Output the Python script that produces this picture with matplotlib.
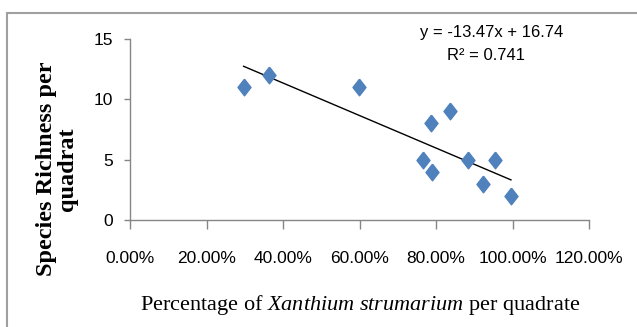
import matplotlib
matplotlib.use("Agg")
import matplotlib.pyplot as plt
import numpy as np
from matplotlib.patches import Rectangle
from matplotlib.ticker import FuncFormatter

# data
xanthium_pct = [0.297, 0.364, 0.599, 0.766, 0.786, 0.790, 0.837, 0.884, 0.924, 0.954, 0.996]
richness = [11, 12, 11, 5, 8, 4, 9, 5, 3, 5, 2]
slope = -13.47
intercept = 16.74
r_squared = 0.741
x_ticks = [0, 0.2, 0.4, 0.6, 0.8, 1.0, 1.2]
y_ticks = [0, 5, 10, 15]

plt.rcParams['mathtext.fontset'] = 'custom'
plt.rcParams['mathtext.rm'] = 'Liberation Serif'
plt.rcParams['mathtext.it'] = 'Liberation Serif:italic'

narrow = ['Liberation Sans', 'DejaVu Sans']
blue = '#4F81BD'
axis_grey = '#868686'

fig = plt.figure(figsize=(6.37, 3.27), dpi=100)
ax = fig.add_axes([130/637, 1 - 220/327, 459/637, 181/327])

# tall diamond marker like the excel one
diamond = [(0, 1), (0.78, 0), (0, -1), (-0.78, 0), (0, 1)]
ax.plot(xanthium_pct, richness, linestyle='none', marker=diamond, markersize=12,
        color=blue, markeredgecolor=blue, zorder=3)

# linear trendline over the data range
xs = np.array([min(xanthium_pct), max(xanthium_pct)])
ax.plot(xs, slope * xs + intercept, color='black', linewidth=1, zorder=2)

ax.set_xlim(0, 1.2)
ax.set_ylim(0, 15)
ax.set_xticks(x_ticks)
ax.set_yticks(y_ticks)
ax.xaxis.set_major_formatter(FuncFormatter(lambda v, p: '%.2f%%' % (v * 100)))

for s in ['top', 'right']:
    ax.spines[s].set_visible(False)
for s in ['left', 'bottom']:
    ax.spines[s].set_color(axis_grey)
    ax.spines[s].set_linewidth(1)

ax.tick_params(axis='x', direction='out', length=6.5, width=1, color=axis_grey, pad=16)
ax.tick_params(axis='y', direction='out', length=4, width=1, color=axis_grey, pad=8)
for lab in ax.get_xticklabels() + ax.get_yticklabels():
    lab.set_family(narrow)
    lab.set_fontsize(12.5)

# equation of the trendline
fig.text(492/637, 1 - 32/327, 'y = %.2fx + %.2f' % (slope, intercept), family=narrow,
         fontsize=12, ha='center', va='center')
fig.text(486/637, 1 - 55/327, 'R² = %.3f' % r_squared, family=narrow,
         fontsize=12, ha='center', va='center')

# axis titles
fig.text(57/637, 1 - 169/327, 'Species Richness per\nquadrat', rotation=90,
         family='Liberation Serif', fontweight='bold', fontsize=17.5,
         ha='center', va='center', multialignment='center', linespacing=0.95)
fig.text(360/637, 1 - 305/327, r'Percentage of $\mathit{Xanthium\ strumarium}$ per quadrate',
         family='Liberation Serif', fontsize=16, ha='center', va='center')

# grey frame of the chart area, running off the right and bottom edges
fig.patches.append(Rectangle((7/637, -0.1), 1.0, (1 - 13/327) + 0.1, transform=fig.transFigure,
                             fill=False, edgecolor='#a0a0a0', linewidth=1.5))

fig.savefig('out.png', dpi=100)
